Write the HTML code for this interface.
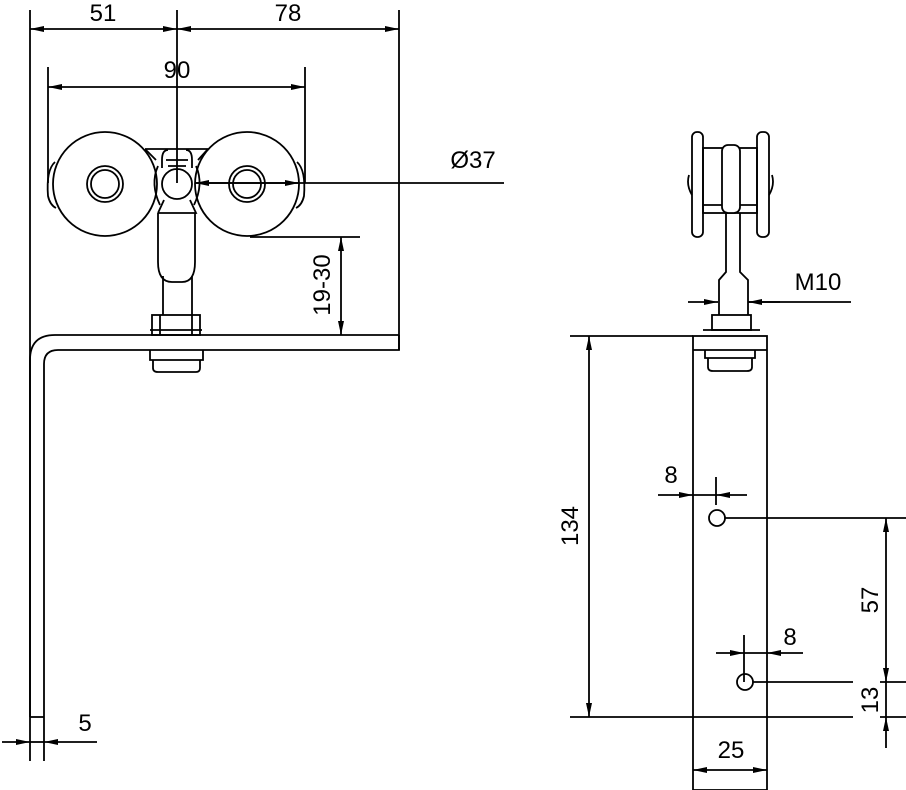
<!DOCTYPE html>
<html><head><meta charset="utf-8"><style>
html,body{margin:0;padding:0;background:#fff;}
svg{display:block}
text{font-family:"Liberation Sans",Arial,sans-serif;font-size:24px;fill:#000}
</style></head><body>
<svg width="906" height="790" viewBox="0 0 906 790" xmlns="http://www.w3.org/2000/svg">
<defs>
<marker id="a" viewBox="0 0 14 7" refX="14" refY="3.5" markerWidth="14" markerHeight="7" markerUnits="userSpaceOnUse" orient="auto-start-reverse"><path d="M0,0.5 L14,3.5 L0,6.5 Z" fill="#000"/></marker>
</defs>
<g fill="none" stroke="#000" stroke-width="1.8">
<line x1="30" y1="10" x2="30" y2="717"/>
<line x1="177" y1="10" x2="177" y2="183"/>
<line x1="399" y1="10" x2="399" y2="350"/>
<line x1="48" y1="67" x2="48" y2="183"/>
<line x1="305" y1="67" x2="305" y2="183"/>
<line x1="30" y1="29" x2="177" y2="29" marker-start="url(#a)" marker-end="url(#a)"/>
<line x1="177" y1="29" x2="399" y2="29" marker-start="url(#a)" marker-end="url(#a)"/>
<line x1="48" y1="87" x2="305" y2="87" marker-start="url(#a)" marker-end="url(#a)"/>
<path d="M399,335 H55 Q30,335 30,360 V761"/>
<path d="M399,335 V350 H58 Q44,350 44,364 V761"/>
<line x1="30" y1="717" x2="44" y2="717"/>
<circle cx="105" cy="184" r="52"/>
<circle cx="105" cy="184" r="18"/>
<circle cx="105" cy="184" r="14"/>
<circle cx="247" cy="184" r="52"/>
<circle cx="247" cy="184" r="18"/>
<circle cx="247" cy="184" r="14"/>
<path d="M55,162 Q46,170 48,196 Q50,205 56,208"/>
<path d="M297,162 Q306,170 304,196 Q302,205 296,208"/>
<circle cx="177" cy="184" r="15"/>
<path d="M145,149 H208 L198,160 M145,149 L156,160"/>
<path d="M158,213 H196 L190,200 M158,213 L164,200"/>
<path d="M168,150 Q162,150 162,160 V168 M186,150 Q192,150 192,160 V168 M166,160 H188 M168,166 H186"/>
<path d="M158,166 Q150,184 160,205 M196,166 Q204,184 194,205"/>
<path d="M158,213 V262 Q158,282 172,282 H182 Q195,282 195,262 V213"/>
<path d="M163,276 V315 M192,276 V315"/>
<rect x="152" y="315" width="48" height="20"/>
<line x1="150" y1="330" x2="202" y2="330"/>
<line x1="160" y1="315" x2="160" y2="335"/>
<line x1="192" y1="315" x2="192" y2="335"/>
<path d="M150,350 V360 H203 V350 M153,360 V368 Q153,372 158,372 H196 Q200,372 200,368 V360"/>
<line x1="195" y1="183" x2="504" y2="183"/>
<line x1="195" y1="183" x2="299" y2="183" marker-start="url(#a)" marker-end="url(#a)"/>
<line x1="250" y1="237" x2="360" y2="237"/>
<line x1="341" y1="237" x2="341" y2="335" marker-start="url(#a)" marker-end="url(#a)"/>
<line x1="30" y1="742" x2="44" y2="742"/>
<line x1="2" y1="742" x2="30" y2="742" marker-end="url(#a)"/>
<line x1="97" y1="742" x2="44" y2="742" marker-end="url(#a)"/>

<rect x="692" y="132" width="11" height="105" rx="5"/>
<rect x="757" y="132" width="12" height="105" rx="5"/>
<path d="M689,175 Q686,185 692,195 M772,175 Q775,185 769,195"/>
<rect x="703" y="148" width="54" height="65"/>
<line x1="703" y1="205" x2="757" y2="205"/>
<rect x="722" y="145" width="18" height="68" rx="6" fill="#fff"/>
<path d="M726,213 V272 L719,280 V315 M740,213 V272 L748,280 V315"/>
<rect x="712" y="315" width="39" height="15"/>
<line x1="703" y1="330" x2="760" y2="330"/>
<rect x="693" y="336" width="74" height="454"/>
<line x1="693" y1="350" x2="767" y2="350"/>
<path d="M705,350 V358 H755 V350 M708,358 V367 Q708,371 713,371 H747 Q752,371 752,367 V358"/>
<line x1="748" y1="302" x2="851" y2="302"/>
<line x1="688" y1="302" x2="718" y2="302" marker-end="url(#a)"/>
<line x1="780" y1="302" x2="748" y2="302" marker-end="url(#a)"/>
<line x1="570" y1="336" x2="693" y2="336"/>
<line x1="570" y1="717" x2="853" y2="717"/>
<line x1="880" y1="717" x2="906" y2="717"/>
<line x1="589" y1="336" x2="589" y2="717" marker-start="url(#a)" marker-end="url(#a)"/>
<circle cx="717" cy="518" r="8"/>
<circle cx="745" cy="682" r="8"/>
<line x1="725" y1="518" x2="906" y2="518"/>
<line x1="753" y1="682" x2="853" y2="682"/>
<line x1="880" y1="682" x2="906" y2="682"/>
<line x1="716" y1="477" x2="716" y2="505"/>
<line x1="658" y1="495" x2="693" y2="495" marker-end="url(#a)"/>
<line x1="747" y1="495" x2="716" y2="495" marker-end="url(#a)"/>
<line x1="693" y1="495" x2="716" y2="495"/>
<line x1="744" y1="635" x2="744" y2="682"/>
<line x1="716" y1="653" x2="744" y2="653" marker-end="url(#a)"/>
<line x1="803" y1="653" x2="767" y2="653" marker-end="url(#a)"/>
<line x1="744" y1="653" x2="767" y2="653"/>
<line x1="886" y1="518" x2="886" y2="682" marker-start="url(#a)" marker-end="url(#a)"/>
<line x1="886" y1="682" x2="886" y2="717"/>
<line x1="886" y1="748" x2="886" y2="717" marker-end="url(#a)"/>
<line x1="693" y1="770" x2="767" y2="770" marker-start="url(#a)" marker-end="url(#a)"/>
</g>
<g>
<text x="103" y="21" text-anchor="middle">51</text>
<text x="288" y="21" text-anchor="middle">78</text>
<text x="177" y="78" text-anchor="middle">90</text>
<text x="473" y="168" text-anchor="middle">Ø37</text>
<text x="0" y="0" text-anchor="middle" transform="translate(330,285) rotate(-90)">19-30</text>
<text x="85" y="731" text-anchor="middle">5</text>
<text x="818" y="290" text-anchor="middle">M10</text>
<text x="0" y="0" text-anchor="middle" transform="translate(578,526) rotate(-90)">134</text>
<text x="671" y="483" text-anchor="middle">8</text>
<text x="790" y="645" text-anchor="middle">8</text>
<text x="0" y="0" text-anchor="middle" transform="translate(878,600) rotate(-90)">57</text>
<text x="0" y="0" text-anchor="middle" transform="translate(878,700) rotate(-90)">13</text>
<text x="731" y="758" text-anchor="middle">25</text>
</g>
</svg>
</body></html>
